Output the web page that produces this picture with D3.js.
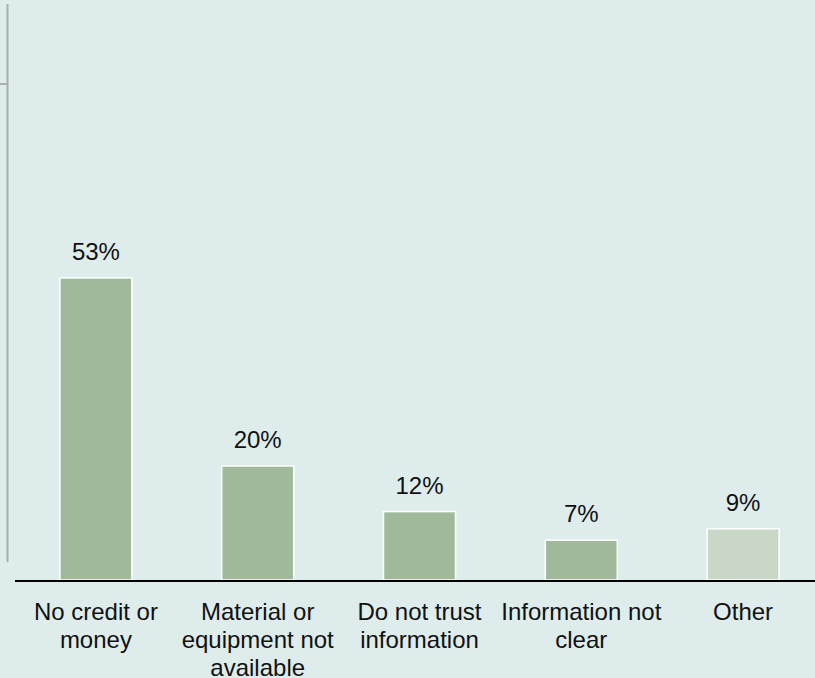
<!DOCTYPE html>
<html>
<head>
<meta charset="utf-8">
<script src="https://cdn.jsdelivr.net/npm/d3@7"></script>
<style>
  html, body { margin: 0; padding: 0; background: #deecec; }
  svg { display: block; }
  text { font-family: "Liberation Sans", Arial, sans-serif; fill: #111; }
</style>
</head>
<body>
<svg id="chart" width="815" height="678"></svg>
<script>
// chart data
var categories = ["No credit or money", "Material or equipment not available", "Do not trust information", "Information not clear", "Other"];
var labelLines = [["No credit or", "money"], ["Material or", "equipment not", "available"], ["Do not trust", "information"], ["Information not", "clear"], ["Other"]];
var values = [53, 20, 12, 7, 9];
var barColors = ["#a0b99b", "#a0b99b", "#a0b99b", "#a0b99b", "#c9d7c7"];

var svg = d3.select("svg#chart");
var baseY = 580;

var x = d3.scaleBand()
  .domain(categories)
  .range([15, 824])
  .paddingInner(0.555)
  .paddingOuter(0.2775);

var y = d3.scaleLinear()
  .domain([0, 100])
  .range([baseY, 10]);

// left axis remnant
svg.append("line")
  .attr("x1", 7.5).attr("x2", 7.5)
  .attr("y1", 4).attr("y2", 562)
  .style("stroke", "#a9adad").style("stroke-width", 2);
svg.append("line")
  .attr("x1", 0).attr("x2", 7)
  .attr("y1", 84).attr("y2", 84)
  .style("stroke", "#a9adad").style("stroke-width", 2);

var data = categories.map((c, i) => ({cat: c, value: values[i], color: barColors[i], lines: labelLines[i]}));

svg.append("g")
  .selectAll("rect")
  .data(data)
  .enter()
  .append("rect")
  .attr("x", d => x(d.cat))
  .attr("y", d => y(d.value))
  .attr("width", x.bandwidth())
  .attr("height", d => baseY - y(d.value))
  .style("fill", d => d.color)
  .style("stroke", "#ffffff")
  .style("stroke-width", 1.5);

// value labels
svg.append("g")
  .selectAll("text")
  .data(data)
  .enter()
  .append("text")
  .attr("x", d => x(d.cat) + x.bandwidth() / 2)
  .attr("y", d => y(d.value) - 18)
  .style("text-anchor", "middle")
  .style("font-size", "24px")
  .text(d => d.value + "%");

// baseline
svg.append("line")
  .attr("x1", 15).attr("x2", 815)
  .attr("y1", baseY + 1).attr("y2", baseY + 1)
  .style("stroke", "#000").style("stroke-width", 2);

// category labels
var cl = svg.append("g")
  .selectAll("text")
  .data(data)
  .enter()
  .append("text")
  .attr("x", d => x(d.cat) + x.bandwidth() / 2)
  .attr("y", 620)
  .style("text-anchor", "middle")
  .style("font-size", "24px");

cl.selectAll("tspan")
  .data(d => d.lines.map(l => ({line: l, cx: x(d.cat) + x.bandwidth() / 2})))
  .enter()
  .append("tspan")
  .attr("x", d => d.cx)
  .attr("dy", (d, i) => i == 0 ? 0 : 28)
  .text(d => d.line);
</script>
</body>
</html>
